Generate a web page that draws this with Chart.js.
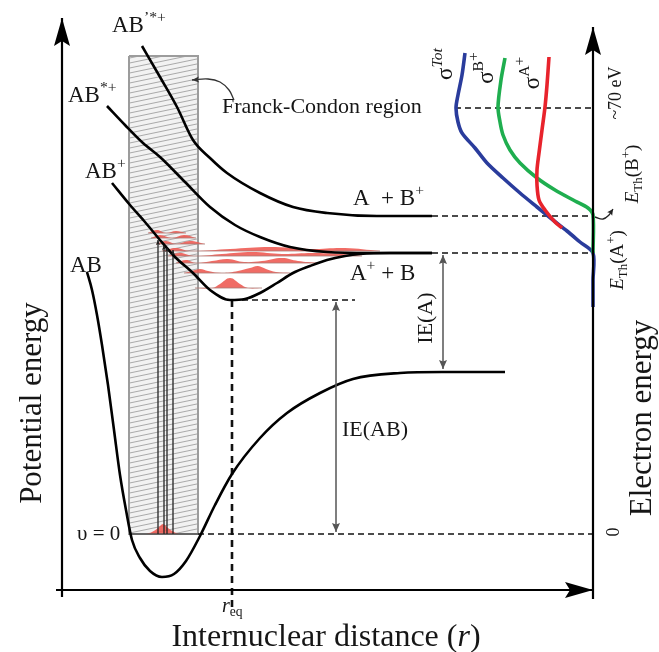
<!DOCTYPE html>
<html>
<head>
<meta charset="utf-8">
<title>Potential energy curves</title>
<script src="https://cdn.jsdelivr.net/npm/chart.js@4.4.1/dist/chart.umd.min.js"></script>
<style>
    html, body { margin: 0; padding: 0; background: #fff; }
    #box { width: 659px; height: 652px; }
</style>
</head>
<body>
<div id="box"><canvas id="myChart"></canvas></div>
<script>
// x = internuclear distance, y = energy, both on the same 659 x 652 grid

// potential curves
const abGround = [[87,380],[92,362],[97,337],[102,307],[108,267],[114,222],[120,177],[126,142],[132,112],[140,94],[150,81],[162,75],[174,78],[186,91],[200,116],[215,147],[232,178],[260,214],[287,239],[320,259],[353,273],[400,279],[442,280],[505,280]]
const abPlus = [[112,469],[130,447],[145,430],[160,412],[175,395],[193,379],[210,362],[230,352],[245,353],[260,359],[277,369],[293,379],[310,386],[327,392],[345,396],[360,398],[390,399],[432,399]]
const abStarPlus = [[107,546],[125,527],[143,509],[160,495],[185,470],[210,445],[235,427],[260,415],[290,405],[327,400],[370,399],[432,399]]
const abPrimeStarPlus = [[142,606],[160,575],[177,545],[193,512],[210,494],[227,479],[260,459],[293,445],[327,439],[377,436],[432,436]]

// Franck-Condon region
const fcRegion = [[129,596],[198,596],[198,118],[129,118],[129,596]]

// vertical transitions from v = 0
const transX = [158, 164, 167, 173]
const transTop = [412, 407, 405, 402]
const v0Energy = 118

// vibrational wave packets of AB+
const vibBase = [364, 379, 389, 396, 401, 408, 414, 419]
const vibWaves = [
    [[195,364],[212,364],[220,368],[230,374],[240,368],[248,364],[262,364]],
    [[184,379],[192,381],[200,383],[208,381],[222,379],[238,381],[250,384],[258,386],[266,383],[276,380],[290,379]],
    [[176,389],[186,392],[196,389],[212,391],[228,393],[244,390],[262,391],[282,394],[298,391],[318,389]],
    [[168,396],[180,399],[194,396],[222,398],[252,400],[282,398],[312,399],[342,398],[362,396]],
    [[162,401],[176,404],[190,401],[230,403],[270,405],[310,403],[345,404],[380,401]],
    [[156,408],[166,411],[176,408],[190,411],[205,408]],
    [[151,414],[160,417],[172,414],[184,417],[196,414]],
    [[148,419],[157,422],[166,419],[176,421],[186,419]]
]
const v0Wave = [[146,118],[152,120],[158,124],[163,128],[168,124],[174,120],[180,118]]

// ionisation cross sections against electron energy
const sigmaTot = [[465,599],[462,577],[458,557],[456,544],[458,530],[462,519],[475,504],[487,489],[503,474],[520,459],[537,445],[553,432],[567,421],[580,410],[593,399],[593,372],[593,345]]
const sigmaB = [[505,594],[501,572],[498,545],[500,530],[503,517],[510,502],[520,489],[537,474],[555,462],[575,451],[588,444],[593,437],[593,399]]
const sigmaA = [[549,595],[547,567],[545,545],[542,522],[539,499],[537,482],[537,467],[539,452],[545,442],[555,430],[562,424]]

// reference levels
const levelAplusBplus = 436
const levelAplusB = 399
const levelAB = 280
const levelMin = 352
const rEq = 232
const level70eV = 544

const SERIF = '"Liberation Serif", "DejaVu Serif", serif'

const labels = [
    { parts: [['AB', 'n'], ['\u2019*+', 'sup']], at: [112, 620], size: 23 },
    { parts: [['AB', 'n'], ['*+', 'sup']], at: [68, 550], size: 23 },
    { parts: [['AB', 'n'], ['+', 'sup']], at: [85, 474], size: 23 },
    { parts: [['AB', 'n']], at: [70, 380], size: 23 },
    { parts: [['A  + B', 'n'], ['+', 'sup']], at: [353, 447], size: 23 },
    { parts: [['A', 'n'], ['+', 'sup'], [' + B', 'n']], at: [350, 372], size: 23 },
    { parts: [['Franck-Condon region', 'n']], at: [222, 539], size: 22 },
    { parts: [['\u03c5 = 0', 'n']], at: [77, 112], size: 21 },
    { parts: [['IE(AB)', 'n']], at: [342, 216], size: 22 },
    { parts: [['IE(A)', 'n']], at: [425, 334], size: 22, rot: -90, align: 'center', mid: true },
    { parts: [['r', 'i'], ['eq', 'sub']], at: [222, 40], size: 20 },
    { parts: [['Internuclear distance (', 'n'], ['r', 'i'], [')', 'n']], at: [326, 6], size: 32, align: 'center' },
    { parts: [['Potential energy', 'n']], at: [31, 249], size: 31, rot: -90, align: 'center', mid: true },
    { parts: [['Electron energy', 'n']], at: [641, 234], size: 31, rot: -90, align: 'center', mid: true },
    { parts: [['~70 eV', 'n']], at: [615, 559], size: 18, rot: -90, align: 'center', mid: true },
    { parts: [['E', 'i'], ['Th', 'sub'], ['(B', 'n'], ['+', 'sup'], [')', 'n']], at: [632, 478], size: 19, rot: -90, align: 'center', mid: true },
    { parts: [['E', 'i'], ['Th', 'sub'], ['(A', 'n'], ['+', 'sup'], [')', 'n']], at: [617, 392], size: 19, rot: -90, align: 'center', mid: true },
    { parts: [['0', 'n']], at: [613, 120], size: 18, rot: -90, align: 'center', mid: true },
    { parts: [['\u03c3', 'n'], ['Tot', 'isup']], at: [444, 588], size: 23, rot: -90, align: 'center', mid: true },
    { parts: [['\u03c3', 'n'], ['B', 'sup'], ['+', 'sup2']], at: [485, 584], size: 23, rot: -90, align: 'center', mid: true },
    { parts: [['\u03c3', 'n'], ['A', 'sup'], ['+', 'sup2']], at: [531, 579], size: 23, rot: -90, align: 'center', mid: true }
]

function xy(arr) {
    return arr.map(p => ({ x: p[0], y: p[1] }))
}

function line(arr, color, width, extra) {
    return Object.assign({
        data: xy(arr),
        borderColor: color,
        borderWidth: width,
        pointRadius: 0,
        fill: false,
        tension: 0
    }, extra || {})
}

function hatch() {
    const c = document.createElement('canvas')
    c.width = 24
    c.height = 5
    const g = c.getContext('2d')
    g.fillStyle = '#f2f2f2'
    g.fillRect(0, 0, 24, 5)
    g.strokeStyle = '#a0a0a0'
    g.lineWidth = 0.9
    for (const dy of [-5, 0, 5]) {
        g.beginPath()
        g.moveTo(0, 5 + dy)
        g.lineTo(24, dy)
        g.stroke()
    }
    return g.createPattern(c, 'repeat')
}

function drawRich(ctx, l, px, py) {
    const size = l.size
    ctx.save()
    ctx.translate(px, py)
    if (l.rot) ctx.rotate(l.rot * Math.PI / 180)
    ctx.fillStyle = '#161616'
    ctx.textBaseline = 'alphabetic'
    const runs = l.parts.map(([t, k]) => {
        const small = k !== 'n' && k !== 'i'
        const fs = small ? size * 0.68 : size
        const italic = k === 'i' || k === 'isup'
        let dy = 0
        if (k === 'sup' || k === 'isup') dy = -size * 0.42
        if (k === 'sup2') dy = -size * 0.62
        if (k === 'sub') dy = size * 0.22
        const font = (italic ? 'italic ' : '') + fs + 'px ' + SERIF
        ctx.font = font
        return { t, font, dy, w: ctx.measureText(t).width }
    })
    const total = runs.reduce((s, r) => s + r.w, 0)
    let x = l.align === 'center' ? -total / 2 : 0
    const base = l.mid ? size * 0.33 : 0
    runs.forEach(r => {
        ctx.font = r.font
        ctx.fillText(r.t, x, base + r.dy)
        x += r.w
    })
    ctx.restore()
}

function tip(ctx, from, to, ds) {
    const a = Math.atan2(to.y - from.y, to.x - from.x)
    const len = ds.headLen || 9
    const w = ds.headW || 3.5
    ctx.save()
    ctx.translate(to.x, to.y)
    ctx.rotate(a)
    ctx.fillStyle = ds.borderColor
    ctx.beginPath()
    ctx.moveTo(0, 0)
    ctx.lineTo(-len, w)
    ctx.lineTo(-len * 0.82, 0)
    ctx.lineTo(-len, -w)
    ctx.closePath()
    ctx.fill()
    ctx.restore()
}

const arrowHeads = {
    id: 'arrowHeads',
    afterDatasetsDraw(chart) {
        const ctx = chart.ctx
        chart.data.datasets.forEach((ds, i) => {
            if (!ds.head) return
            const pts = chart.getDatasetMeta(i).data
            const n = pts.length
            if (ds.head === 'end' || ds.head === 'both') tip(ctx, pts[n - 2], pts[n - 1], ds)
            if (ds.head === 'start' || ds.head === 'both') tip(ctx, pts[1], pts[0], ds)
        })
    }
}

const textLabels = {
    id: 'textLabels',
    afterDatasetsDraw(chart) {
        const { ctx, scales } = chart
        labels.forEach(l => {
            drawRich(ctx, l, scales.x.getPixelForValue(l.at[0]), scales.y.getPixelForValue(l.at[1]))
        })
    }
}

function InitChart() {
    const red = 'rgba(238,88,80,0.88)'
    const dash = { borderDash: [6, 4] }
    const sets = []   // back to front

    sets.push(line(fcRegion, '#9c9c9c', 2, { fill: 'shape', backgroundColor: hatch() }))

    vibWaves.forEach((w, i) => {
        sets.push(line(w, 'rgba(0,0,0,0)', 0, { tension: 0.4, fill: { value: vibBase[i] }, backgroundColor: red }))
        sets.push(line([[w[0][0], vibBase[i]], [w[w.length - 1][0], vibBase[i]]], 'rgba(170,120,115,0.8)', 1))
    })
    sets.push(line(v0Wave, 'rgba(0,0,0,0)', 0, { tension: 0.4, fill: { value: v0Energy }, backgroundColor: red }))
    sets.push(line([[129, v0Energy], [198, v0Energy]], '#555', 1.6))

    // dashed guide lines
    sets.push(line([[432, levelAplusBplus], [593, levelAplusBplus]], '#111', 1.4, dash))
    sets.push(line([[432, levelAplusB], [593, levelAplusB]], '#111', 1.4, dash))
    sets.push(line([[rEq, levelMin], [355, levelMin]], '#111', 1.4, dash))
    sets.push(line([[198, v0Energy], [593, v0Energy]], '#111', 1.4, dash))
    sets.push(line([[455, level70eV], [593, level70eV]], '#111', 1.4, dash))
    sets.push(line([[rEq, levelMin], [rEq, 45]], '#111', 2.6, { borderDash: [7, 5] }))

    // transitions
    transX.forEach((x, i) => {
        sets.push(line([[x, v0Energy], [x, transTop[i]]], '#222', 1.3, { head: 'end', headLen: 5, headW: 2 }))
    })

    // potential curves
    const pot = { cubicInterpolationMode: 'monotone' }
    sets.push(line(abGround, '#000', 2.6, pot))
    sets.push(line(abPlus, '#000', 2.6, pot))
    sets.push(line(abStarPlus, '#000', 2.6, pot))
    sets.push(line(abPrimeStarPlus, '#000', 2.6, pot))

    // ionisation energies
    sets.push(line([[336, 350], [336, 120]], '#555', 1.5, { head: 'both', headLen: 9, headW: 4 }))
    sets.push(line([[443, levelAplusB - 2], [443, levelAB + 3]], '#555', 1.5, { head: 'both', headLen: 9, headW: 4 }))

    // pointer arrows
    sets.push(line([[234, 552], [229, 562], [220, 570], [208, 573], [192, 572]], '#333', 1.3, { tension: 0.4, head: 'end', headLen: 7, headW: 3 }))
    sets.push(line([[595, 435], [603, 433], [609, 437], [613, 443]], '#222', 1.3, { tension: 0.4, head: 'end', headLen: 6, headW: 3 }))

    // cross sections
    sets.push(line(sigmaTot, '#2a3c9c', 3.6, { tension: 0.3 }))
    sets.push(line(sigmaB, '#1fae4f', 3.6, { tension: 0.3 }))
    sets.push(line(sigmaA, '#e8232c', 3.6, { tension: 0.3 }))

    // axes
    sets.push(line([[62, 55], [62, 634]], '#000', 2.2, { head: 'end', headLen: 28, headW: 8 }))
    sets.push(line([[56, 62], [593, 62]], '#000', 2.2, { head: 'end', headLen: 28, headW: 8 }))
    sets.push(line([[593, 53], [593, 625]], '#000', 2.2, { head: 'end', headLen: 28, headW: 8 }))

    sets.forEach((s, i) => { s.order = sets.length - i })

    const config = {
        type: 'line',
        data: { datasets: sets },
        options: {
            responsive: true,
            maintainAspectRatio: false,
            animation: false,
            devicePixelRatio: 1,
            layout: { padding: 0 },
            scales: {
                x: { type: 'linear', min: 0, max: 659, display: false },
                y: { type: 'linear', min: 0, max: 652, display: false }
            },
            plugins: {
                legend: { display: false },
                tooltip: { enabled: false }
            }
        },
        plugins: [arrowHeads, textLabels]
    }
    new Chart(document.getElementById('myChart'), config)
}

window.onload = function () {
    InitChart()
}
</script>
</body>
</html>
